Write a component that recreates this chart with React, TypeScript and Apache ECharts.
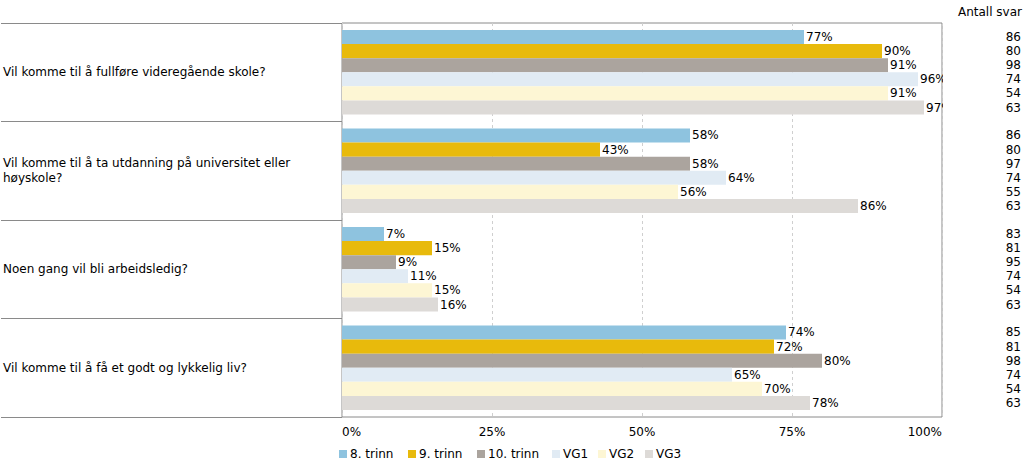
import React, { useEffect, useRef } from "react";
import * as echarts from "echarts";

const categories = [
  "Vil komme til å fullføre videregående skole?",
  "Vil komme til å ta utdanning på universitet eller høyskole?",
  "Noen gang vil bli arbeidsledig?",
  "Vil komme til å få et godt og lykkelig liv?",
];
const seriesNames = ["8. trinn", "9. trinn", "10. trinn", "VG1", "VG2", "VG3"];
const colors = ["#8ec3df", "#e8ba0c", "#aba49e", "#e1ebf4", "#fdf6d4", "#dddad7"];

// percent per series, one value per category
const pct8 = [77, 58, 7, 74];
const pct9 = [90, 43, 15, 72];
const pct10 = [91, 58, 9, 80];
const pctVG1 = [96, 64, 11, 65];
const pctVG2 = [91, 56, 15, 70];
const pctVG3 = [97, 86, 16, 78];
const percentValues = [pct8, pct9, pct10, pctVG1, pctVG2, pctVG3];

// Antall svar per series, one value per category
const n8 = [86, 86, 83, 85];
const n9 = [80, 80, 81, 81];
const n10 = [98, 97, 95, 98];
const nVG1 = [74, 74, 74, 74];
const nVG2 = [54, 55, 54, 54];
const nVG3 = [63, 63, 63, 63];
const countValues = [n8, n9, n10, nVG1, nVG2, nVG3];

const countsTitle = "Antall svar";
const xMin = 0;
const xMax = 100;
const xInterval = 25;

const FONT = '"DejaVu Sans", Verdana, sans-serif';
const FS = 12;
const CAT_GAP = 0.14;
const legendLefts = [339, 408, 477, 552, 598, 645];

export default function App() {
  const ref = useRef<HTMLDivElement>(null);

  useEffect(() => {
    if (!ref.current) return;
    const chart = echarts.init(ref.current, undefined, { renderer: "svg" });

    const barSeries = seriesNames.map((name, i) => ({
      name,
      type: "bar",
      data: percentValues[i],
      itemStyle: { color: colors[i] },
      barGap: "0%",
      barCategoryGap: CAT_GAP * 100 + "%",
      label: {
        show: true,
        position: "right",
        distance: 2,
        formatter: "{c}%",
        color: "#000",
        fontFamily: FONT,
        fontSize: FS,
      },
    }));

    const countData: number[][] = [];
    countValues.forEach((arr, si) => {
      arr.forEach((v, ci) => {
        countData.push([xMax, ci, si, v]);
      });
    });

    const nSeries = seriesNames.length;

    const countSeries = {
      type: "custom",
      name: "counts",
      silent: true,
      clip: false,
      encode: { x: 0, y: 1 },
      data: countData,
      renderItem: (params: any, api: any) => {
        const cat = api.value(1);
        const si = api.value(2);
        const val = api.value(3);
        const c = api.coord([xMax, cat]);
        const band = Math.abs(api.size([0, 1])[1]);
        const barW = (band * (1 - CAT_GAP)) / nSeries;
        const y = c[1] - (band * (1 - CAT_GAP)) / 2 + barW * (si + 0.5);
        return {
          type: "text",
          style: {
            x: c[0] + 79,
            y,
            text: String(val),
            align: "right",
            verticalAlign: "middle",
            fill: "#000",
            font: `${FS}px ${FONT}`,
          },
        };
      },
    };

    const legends = seriesNames.map((name, i) => ({
      data: [name],
      left: legendLefts[i],
      top: 448,
      icon: "rect",
      itemWidth: 8,
      itemHeight: 8,
      padding: 0,
      selectedMode: false,
      textStyle: { fontFamily: FONT, fontSize: FS, color: "#000", padding: [0, 0, 0, -2] },
    }));

    chart.setOption({
      animation: false,
      backgroundColor: "#fff",
      textStyle: { fontFamily: FONT },
      grid: {
        left: 341,
        right: 82,
        top: 23,
        bottom: 46,
        show: true,
        borderColor: "#8a8a8a",
        borderWidth: 1,
        backgroundColor: "transparent",
      },
      legend: legends,
      xAxis: {
        type: "value",
        min: xMin,
        max: xMax,
        interval: xInterval,
        axisLine: { show: false },
        axisTick: { show: false },
        splitLine: { show: true, lineStyle: { color: "#cfcfcf", type: [3, 3] } },
        axisLabel: {
          formatter: "{value}%",
          color: "#000",
          fontFamily: FONT,
          fontSize: FS,
          margin: 9,
          alignMinLabel: "left",
          alignMaxLabel: "right",
        },
      },
      yAxis: {
        type: "category",
        data: categories,
        inverse: true,
        axisLine: { show: false },
        axisTick: { show: true, length: 341, lineStyle: { color: "#8a8a8a" } },
        splitLine: { show: false },
        axisLabel: {
          margin: 339,
          align: "left",
          width: 325,
          overflow: "break",
          color: "#000",
          fontFamily: FONT,
          fontSize: FS,
          lineHeight: 15,
        },
      },
      graphic: [
        {
          type: "rect",
          z: 100,
          shape: { x: 943, y: 23, width: 50, height: 394 },
          style: { fill: "#fff" },
          silent: true,
        },
        {
          type: "text",
          z: 101,
          x: 1022,
          y: 12,
          style: {
            text: countsTitle,
            align: "right",
            verticalAlign: "middle",
            fill: "#000",
            font: `${FS}px ${FONT}`,
          },
        },
      ],
      series: [...barSeries, countSeries],
    });

    return () => chart.dispose();
  }, []);

  return (
    <div
      ref={ref}
      style={{ position: "fixed", left: 0, top: 0, width: 1024, height: 463 }}
    />
  );
}
